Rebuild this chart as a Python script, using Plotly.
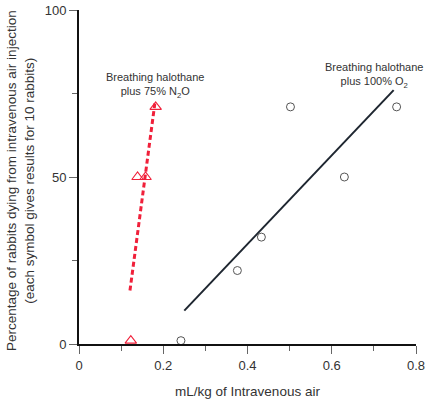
import plotly.graph_objects as go

# N2O group (triangles)
n2o_x = [0.123, 0.139, 0.158, 0.182]
n2o_y = [1, 50, 50, 71]
n2o_fit_x = [0.121, 0.180]
n2o_fit_y = [16, 72]

# O2 group (circles)
o2_x = [0.242, 0.376, 0.433, 0.502, 0.630, 0.754]
o2_y = [1, 22, 32, 71, 50, 71]
o2_fit_x = [0.250, 0.747]
o2_fit_y = [10, 76]

x_ticks = [0, 0.2, 0.4, 0.6, 0.8]
x_ticklabels = ["0", "0.2", "0.4", "0.6", "0.8"]
y_ticks = [0, 50, 100]
y_ticklabels = ["0", "50", "100"]

red = "#f0203a"
dark = "#1e2630"
grey = "#666666"

fig = go.Figure()
fig.add_trace(go.Scatter(x=n2o_fit_x, y=n2o_fit_y, mode="lines",
                         line=dict(color=red, width=3, dash="5px,3px"),
                         showlegend=False, cliponaxis=False))
fig.add_trace(go.Scatter(x=o2_fit_x, y=o2_fit_y, mode="lines",
                         line=dict(color=dark, width=2),
                         showlegend=False, cliponaxis=False))
fig.add_trace(go.Scatter(x=n2o_x, y=n2o_y, mode="markers",
                         marker=dict(symbol="triangle-up-open", size=10,
                                     color=red, line=dict(width=1.1)),
                         showlegend=False, cliponaxis=False))
fig.add_trace(go.Scatter(x=o2_x, y=o2_y, mode="markers",
                         marker=dict(symbol="circle-open", size=8,
                                     color="#555555", line=dict(width=1)),
                         showlegend=False, cliponaxis=False))

fig.add_annotation(x=0.18, y=72.5, xref="x", yref="y",
                   text="Breathing halothane<br>plus 75% N<sub>2</sub>O",
                   showarrow=False, yanchor="bottom",
                   font=dict(size=11, color="#333333"))
fig.add_annotation(x=0.70, y=75.5, xref="x", yref="y",
                   text="Breathing halothane<br>plus 100% O<sub>2</sub>",
                   showarrow=False, yanchor="bottom",
                   font=dict(size=11, color="#333333"))
fig.add_annotation(x=-0.175, y=0.488, xref="paper", yref="paper",
                   text="Percentage of rabbits dying from intravenous air injection<br>(each symbol gives results for 10 rabbits)",
                   textangle=-90, showarrow=False, xanchor="center", yanchor="middle",
                   font=dict(size=13.5, color="#333333"))

fig.update_layout(
    width=433, height=399,
    margin=dict(l=79, r=17, t=10, b=55, autoexpand=False),
    paper_bgcolor="white", plot_bgcolor="white",
    font=dict(family="Liberation Sans, Arial, sans-serif", color="#333333"),
    xaxis=dict(range=[0, 0.8], tickvals=x_ticks, ticktext=x_ticklabels,
               automargin=False,
               showgrid=False, zeroline=False, showline=True,
               linecolor="#111111", linewidth=2,
               ticks="outside", ticklen=8, tickcolor=grey, tickwidth=1,
               minor=dict(dtick=0.1, ticks="outside", ticklen=5, tickcolor=grey),
               tickfont=dict(size=13, color="#333333"),
               title=dict(text="mL/kg of Intravenous air", standoff=15,
                          font=dict(size=13.5, color="#333333"))),
    yaxis=dict(range=[0, 100], tickvals=y_ticks, ticktext=y_ticklabels,
               automargin=False,
               showgrid=False, zeroline=False, showline=True,
               linecolor="#111111", linewidth=2,
               ticks="outside", ticklen=8, tickcolor=grey, tickwidth=1,
               minor=dict(dtick=25, ticks="outside", ticklen=5, tickcolor=grey),
               tickfont=dict(size=13, color="#333333")),
)

fig.write_html("out.html", post_script="document.body.style.margin='0';",
               config={"displayModeBar": False})
